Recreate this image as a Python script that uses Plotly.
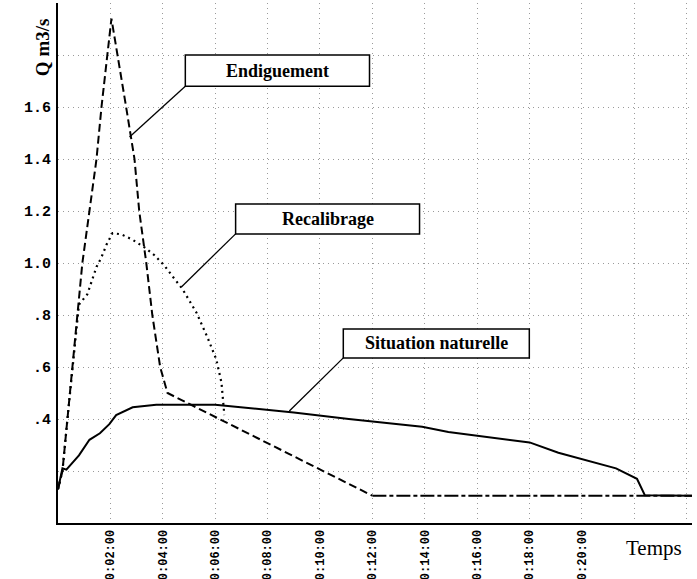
import plotly.graph_objects as go

# ---------------- data ----------------
nat_t = [0, 0.17, 0.32, 0.8, 1.2, 1.6, 1.96, 2.22, 2.85, 3.75, 6.0, 7.3, 9.0, 11.1,
         13.9, 14.9, 18.0, 19.1, 20.0, 21.3, 22.1, 22.4, 24.2]
nat_q = [0.13, 0.21, 0.205, 0.26, 0.32, 0.345, 0.38, 0.415, 0.445, 0.455, 0.455, 0.443,
         0.425, 0.40, 0.37, 0.35, 0.31, 0.27, 0.246, 0.21, 0.17, 0.107, 0.105]

end_t = [0, 0.17, 0.36, 0.55, 0.74, 0.93, 1.2, 1.47, 1.66, 2.04, 2.6, 2.92, 3.1, 3.37,
         3.6, 3.9, 4.18, 12.0]
end_q = [0.13, 0.2, 0.4, 0.6, 0.8, 1.0, 1.2, 1.4, 1.6, 1.94, 1.6, 1.4, 1.2, 1.0,
         0.8, 0.6, 0.5, 0.105]
end_flat_t = [12.0, 24.2]
end_flat_q = [0.105, 0.105]

rec_t = [0, 0.17, 0.36, 0.55, 0.8, 1.12, 1.3, 1.47, 1.65, 1.85, 2.08, 2.42, 2.84, 3.3,
         3.68, 4.06, 4.44, 4.75, 5.28, 5.7, 6.04, 6.24, 6.31, 6.35]
rec_q = [0.13, 0.2, 0.4, 0.6, 0.84, 0.88, 0.93, 0.985, 1.02, 1.07, 1.115, 1.11, 1.09,
         1.06, 1.03, 0.99, 0.94, 0.90, 0.81, 0.715, 0.63, 0.54, 0.46, 0.415]

x_tickvals = [2, 4, 6, 8, 10, 12, 14, 16, 18, 20, 22, 24]
x_ticktext = ["0:02:00", "0:04:00", "0:06:00", "0:08:00", "0:10:00", "0:12:00",
              "0:14:00", "0:16:00", "0:18:00", "0:20:00", "", ""]
y_tickvals = [0.2, 0.4, 0.6, 0.8, 1.0, 1.2, 1.4, 1.6, 1.8]
y_ticktext = ["", ".4", ".6", ".8", "1.0", "1.2", "1.4", "1.6", ""]

labels = ["Endiguement", "Recalibrage", "Situation naturelle"]
# label box: (t_left, t_right, q_bottom, q_top), leader target (t, q)
label_boxes = [(4.86, 11.89, 1.68, 1.80), (6.78, 13.80, 1.112, 1.227), (10.89, 17.99, 0.635, 0.746)]
label_targets = [(2.73, 1.485), (4.71, 0.908), (8.83, 0.431)]

# ---------------- figure ----------------
fig = go.Figure()
fig.add_trace(go.Scatter(x=nat_t, y=nat_q, mode="lines",
                         line=dict(color="black", width=2), showlegend=False))
fig.add_trace(go.Scatter(x=end_t, y=end_q, mode="lines",
                         line=dict(color="black", width=2, dash="8px,4px"), showlegend=False))
fig.add_trace(go.Scatter(x=end_flat_t, y=end_flat_q, mode="lines",
                         line=dict(color="black", width=2, dash="14px,3px,4px,3px"), showlegend=False))
fig.add_trace(go.Scatter(x=rec_t, y=rec_q, mode="lines",
                         line=dict(color="black", width=2.2, dash="2px,4px"), showlegend=False))

for text, (tl, tr, qb, qt), (tx, qy) in zip(labels, label_boxes, label_targets):
    fig.add_shape(type="rect", x0=tl, x1=tr, y0=qb, y1=qt, xref="x", yref="y",
                  line=dict(color="black", width=1.5), fillcolor="white", layer="above")
    fig.add_shape(type="line", x0=tl, y0=qb, x1=tx, y1=qy, xref="x", yref="y",
                  line=dict(color="black", width=1.3), layer="above")
    fig.add_annotation(x=(tl + tr) / 2, y=(qb + qt) / 2, xref="x", yref="y", text=text,
                       showarrow=False,
                       font=dict(family="Liberation Serif", size=18, color="black", weight="bold"))

fig.add_annotation(x=-0.025, y=0.975, xref="paper", yref="paper", text="Q m3/s",
                   textangle=-90, showarrow=False, xanchor="center", yanchor="top",
                   font=dict(family="Liberation Serif", size=19, color="black", weight="bold"))
fig.add_annotation(x=0.988, y=-0.022, xref="paper", yref="paper", text="Temps",
                   showarrow=False, xanchor="right", yanchor="top",
                   font=dict(family="Liberation Serif", size=21, color="black"))

grid = dict(showgrid=True, gridcolor="#9a9a9a", gridwidth=1, griddash="1px,4px")
fig.update_xaxes(range=[0, 24.2], tickmode="array", tickvals=x_tickvals, ticktext=x_ticktext,
                 tickangle=-90, showline=True, linecolor="black", linewidth=2,
                 zeroline=False, ticks="", automargin=False, ticklabelstandoff=0,
                 tickfont=dict(family="Liberation Mono", size=12, color="black", weight="bold"),
                 **grid)
fig.update_yaxes(range=[0, 2.0], tickmode="array", tickvals=y_tickvals, ticktext=y_ticktext,
                 showline=True, linecolor="black", linewidth=2, zeroline=False, ticks="",
                 automargin=False, ticklabelstandoff=2,
                 tickfont=dict(family="Liberation Mono", size=15, color="black", weight="bold"),
                 **grid)
fig.update_layout(width=697, height=579, margin=dict(l=58, r=5, t=3, b=56, autoexpand=False),
                  plot_bgcolor="white", paper_bgcolor="white")
fig.write_html("out.html", config={"displayModeBar": False},
               post_script="document.body.style.margin='0';document.body.style.overflow='hidden';")
